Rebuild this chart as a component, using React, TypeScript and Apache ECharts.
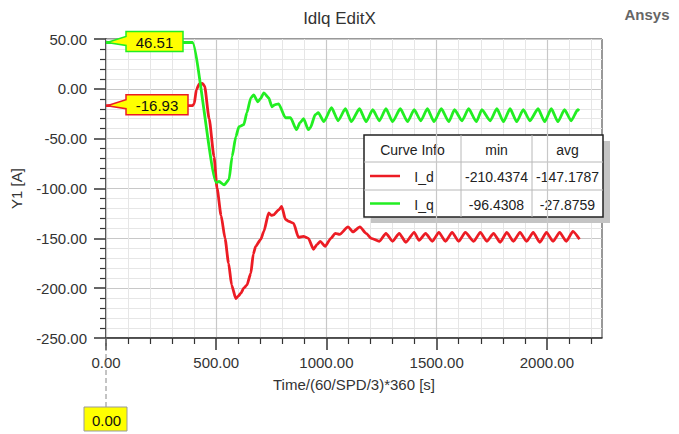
import React, { useEffect, useRef } from "react";
import * as echarts from "echarts";

const FONT = '"Liberation Sans", Arial, sans-serif';

// ---- data ----
const idTime = [
  0, 392, 400, 410, 423, 437, 447, 468, 490, 504, 522, 540, 556, 570, 589, 600, 612, 625, 639, 657, 668, 679,
  702, 716, 738, 750, 760, 783, 797, 814, 830, 851, 873, 895, 918, 941, 958, 972, 994, 1020, 1040, 1060,
  1098, 1120, 1152, 1180, 1203, 1240, 1270, 1300, 1330, 1360, 1398, 1420, 1450, 1480, 1510, 1540, 1570,
  1600, 1630, 1668, 1698, 1728, 1758, 1788, 1818, 1848, 1878, 1908, 1938, 1968, 1998, 2028, 2058, 2088,
  2118, 2148,
];
const idValue = [
  -16.93, -16.93, -15, -1, 5, 5.5, 3, -30, -68, -100, -127, -150, -175, -197, -210.44, -208, -205, -200, -197,
  -185, -166, -158, -151, -143, -124.5, -127, -126.5, -121.5, -118, -131, -133, -135, -149, -148, -150,
  -161, -156, -153, -158, -150, -145, -146, -138.5, -143.5, -138.5, -145, -150, -153, -145, -153, -145,
  -154, -144, -152, -145, -153, -144, -153, -144, -153, -144, -153, -144, -153, -145, -154, -144, -153,
  -144, -153, -144, -154, -144, -153, -144, -153, -143, -151,
];
const iqTime = [
  0, 392, 500, 513, 536, 558, 572, 589, 603, 625, 639, 657, 670, 689, 700, 716, 738, 753, 765, 783, 814,
  837, 864, 880, 896, 918, 927, 949, 963, 988, 1023, 1053, 1086, 1113, 1150, 1180, 1210, 1240, 1270, 1300,
  1335, 1368, 1398, 1428, 1458, 1488, 1521, 1555, 1581, 1615, 1645, 1680, 1705, 1743, 1773, 1803, 1833,
  1863, 1893, 1923, 1960, 1990, 2020, 2050, 2080, 2110, 2140, 2147,
];
const iqValue = [
  46.51, 46.51, -94, -93, -96.43, -91, -68, -48, -38, -36, -24, -9, -6, -13, -10, -4, -9, -18, -16, -15,
  -29, -29, -41, -34, -30, -41, -39, -26, -24, -33, -19, -32, -20, -33, -20, -33, -21, -32, -20, -33, -20,
  -33, -21, -32, -20, -33, -20, -33, -21, -32, -20, -33, -21, -32, -20, -33, -20, -33, -21, -32, -20, -33,
  -20, -33, -21, -32, -21, -22,
];

const seriesNames = ["I_d", "I_q"];
const seriesColors = ["#ec1c24", "#22ee22"];
const legendHeader = ["Curve Info", "min", "avg"];
const legendMin = ["-210.4374", "-96.4308"];
const legendAvg = ["-147.1787", "-27.8759"];
const markerValues = [-16.93, 46.51]; // I_d, I_q at cursor
const cursorX = 0;

const xMajorTicks = [0, 500, 1000, 1500, 2000];
const xMinorTicks = [100, 200, 300, 400, 600, 700, 800, 900, 1100, 1200, 1300, 1400, 1600, 1700, 1800, 1900, 2100, 2200];
const xMin = 0;
const xMax = 2250;
const yMin = -250;
const yMax = 50;

const zip = (a: number[], b: number[]) => a.map((v, i) => [v, b[i]]);

export default function App() {
  const ref = useRef<HTMLDivElement>(null);
  useEffect(() => {
    const el = ref.current as HTMLDivElement;
    const chart = echarts.init(el, null, { renderer: "svg" });
    const fmt = (v: number) => Number(v).toFixed(2);
    const option: any = {
      animation: false,
      backgroundColor: "#ffffff",
      textStyle: { fontFamily: FONT },
      title: {
        text: "Idlq EditX",
        left: "center",
        top: 5,
        textStyle: { fontFamily: FONT, fontSize: 17, fontWeight: "normal", color: "#333" },
      },
      grid: { left: 106, top: 39, right: 77, bottom: 96, show: true, borderColor: "#333", borderWidth: 1, backgroundColor: "transparent" },
      xAxis: [
        {
          type: "value", gridIndex: 0, position: "bottom", min: xMin, max: xMax, interval: 500, z: 1,
          name: "Time/(60/SPD/3)*360 [s]", nameLocation: "middle", nameGap: 39,
          nameTextStyle: { fontFamily: FONT, fontSize: 15, color: "#333" },
          axisLine: { show: true, onZero: false, lineStyle: { color: "#333", width: 1.5 } },
          axisTick: { show: true, customValues: xMajorTicks, length: 12, lineStyle: { color: "#333", width: 1.5 } },
          axisLabel: { customValues: xMajorTicks, formatter: fmt, margin: 17, fontFamily: FONT, fontSize: 15, color: "#333" },
          splitLine: { show: true, lineStyle: { color: "#c8c8c8", width: 1.2 } },
        },
        {
          type: "value", gridIndex: 0, position: "bottom", min: xMin, max: xMax, interval: 100, z: 0,
          axisLine: { show: false, onZero: false },
          axisLabel: { show: false },
          axisTick: { show: true, customValues: xMinorTicks, length: 6, lineStyle: { color: "#333", width: 1.2 } },
          splitLine: { show: true, lineStyle: { color: "#e6e6e6", width: 1 } },
        },
      ],
      yAxis: {
        type: "value", min: yMin, max: yMax, interval: 50,
        name: "Y1 [A]", nameLocation: "middle", nameGap: 82,
        nameTextStyle: { fontFamily: FONT, fontSize: 15, color: "#333" },
        axisLine: { show: true, onZero: false, lineStyle: { color: "#333", width: 1.5 } },
        axisTick: { show: true, length: 12, lineStyle: { color: "#333", width: 1.5 } },
        minorTick: { show: true, splitNumber: 5, length: 6, lineStyle: { color: "#333", width: 1.2 } },
        axisLabel: { formatter: fmt, margin: 19, fontFamily: FONT, fontSize: 15, color: "#333" },
        splitLine: { show: true, lineStyle: { color: "#c8c8c8", width: 1.2 } },
        minorSplitLine: { show: true, lineStyle: { color: "#e6e6e6", width: 1 } },
      },
      series: [
        {
          name: seriesNames[0], type: "line", xAxisIndex: 0, yAxisIndex: 0, data: zip(idTime, idValue),
          showSymbol: false, symbol: "none", smooth: 0.2, smoothMonotone: "x",
          lineStyle: { color: seriesColors[0], width: 2.8 }, z: 3,
        },
        {
          name: seriesNames[1], type: "line", xAxisIndex: 0, yAxisIndex: 0, data: zip(iqTime, iqValue),
          showSymbol: false, symbol: "none", smooth: 0.2, smoothMonotone: "x",
          lineStyle: { color: seriesColors[1], width: 2.8 }, z: 4,
        },
      ],
    };
    chart.setOption(option);

    const graphics: any[] = [];
    // Ansys logo text
    graphics.push({
      type: "text", x: 647, y: 14, z: 100,
      style: { text: "Ansys", fontFamily: FONT, fontSize: 15, fontWeight: "bold", fill: "#666", align: "center", verticalAlign: "middle" },
    });

    // callouts at cursor
    markerValues.forEach((v, i) => {
      const p = chart.convertToPixel({ xAxisIndex: 0, yAxisIndex: 0 }, [cursorX, v]) as number[];
      const tx = p[0] + 1;
      const ty = p[1];
      const label = v.toFixed(2);
      const w = 32 + 5 * label.length;
      const bx = tx + 19;
      const cy = ty - 1;
      graphics.push({
        type: "polygon", z: 100,
        shape: {
          points: [
            [tx, ty], [bx, cy - 5], [bx, cy - 10], [bx + w, cy - 10], [bx + w, cy + 10], [bx, cy + 10], [bx, cy + 4],
          ],
        },
        style: { fill: "#ffff00", stroke: seriesColors[i], lineWidth: 1.5 },
      });
      graphics.push({
        type: "text", z: 101, x: bx + w / 2, y: cy + 1,
        style: { text: label, fontFamily: FONT, fontSize: 15, fill: "#111", align: "center", verticalAlign: "middle" },
      });
    });

    // x cursor marker
    const cp = chart.convertToPixel({ xAxisIndex: 0, yAxisIndex: 0 }, [cursorX, yMin]) as number[];
    graphics.push({
      type: "line", z: 100,
      shape: { x1: cp[0], y1: cp[1], x2: cp[0], y2: cp[1] + 69 },
      style: { stroke: "#888", lineWidth: 1, lineDash: [5, 3] },
    });
    graphics.push({
      type: "rect", z: 100,
      shape: { x: cp[0] - 22, y: cp[1] + 69, width: 43, height: 24 },
      style: { fill: "#ffff00", stroke: "#999", lineWidth: 1 },
    });
    graphics.push({
      type: "text", z: 101, x: cp[0] + 0.5, y: cp[1] + 82,
      style: { text: cursorX.toFixed(2), fontFamily: FONT, fontSize: 15, fill: "#111", align: "center", verticalAlign: "middle" },
    });

    // curve info table
    const TX = 364, TY = 135, TW = 239, TH = 82;
    const colX = [TX, 461, 532, TX + TW];
    const rowY = [TY, 162, 190, TY + TH];
    const children: any[] = [];
    children.push({ type: "rect", shape: { x: TX + 7, y: TY + 6, width: TW, height: TH }, style: { fill: "#c4c4c4" } });
    children.push({ type: "rect", shape: { x: TX, y: TY, width: TW, height: TH }, style: { fill: "#fff", stroke: "#222", lineWidth: 1.5 } });
    [colX[1], colX[2]].forEach((x) =>
      children.push({ type: "line", shape: { x1: x, y1: TY, x2: x, y2: TY + TH }, style: { stroke: "#b8b8b8", lineWidth: 1 } })
    );
    [rowY[1], rowY[2]].forEach((y) =>
      children.push({ type: "line", shape: { x1: TX, y1: y, x2: TX + TW, y2: y }, style: { stroke: "#b8b8b8", lineWidth: 1 } })
    );
    const cellText = (text: string, x: number, y: number) => ({
      type: "text", x, y,
      style: { text, fontFamily: FONT, fontSize: 14, fill: "#222", align: "center", verticalAlign: "middle" },
    });
    legendHeader.forEach((h, c) => children.push(cellText(h, (colX[c] + colX[c + 1]) / 2, (rowY[0] + rowY[1]) / 2 + 1)));
    seriesNames.forEach((n, r) => {
      const cy = (rowY[r + 1] + rowY[r + 2]) / 2 + 1;
      children.push({ type: "line", shape: { x1: 370, y1: cy - 1, x2: 400, y2: cy - 1 }, style: { stroke: seriesColors[r], lineWidth: 2.5 } });
      children.push(cellText(n, 424, cy));
      children.push(cellText(legendMin[r], (colX[1] + colX[2]) / 2, cy));
      children.push(cellText(legendAvg[r], (colX[2] + colX[3]) / 2, cy));
    });
    graphics.push({ type: "group", z: 100, children });

    chart.setOption({ graphic: graphics });
    return () => chart.dispose();
  }, []);
  return <div ref={ref} style={{ position: "fixed", left: 0, top: 0, width: 679, height: 434 }} />;
}
